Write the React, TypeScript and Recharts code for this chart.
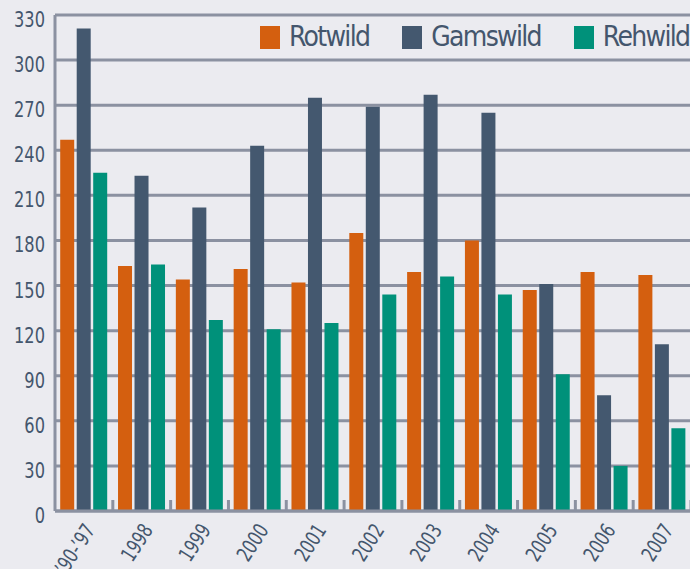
import React from "react";
import { BarChart, Bar, XAxis, YAxis, CartesianGrid, Legend } from "recharts";

const years = ["’90-’97", "1998", "1999", "2000", "2001", "2002", "2003", "2004", "2005", "2006", "2007"];
const rotwild = [247, 163, 154, 161, 152, 185, 159, 180, 147, 159, 157];
const gamswild = [321, 223, 202, 243, 275, 269, 277, 265, 151, 77, 111];
const rehwild = [225, 164, 127, 121, 125, 144, 156, 144, 91, 30, 55];
const yTicks = [0, 30, 60, 90, 120, 150, 180, 210, 240, 270, 300, 330];

const series = [
  { key: "Rotwild", color: "#d45f0f" },
  { key: "Gamswild", color: "#44586f" },
  { key: "Rehwild", color: "#00917a" },
];

const data = years.map((year, i) => ({
  year,
  Rotwild: rotwild[i],
  Gamswild: gamswild[i],
  Rehwild: rehwild[i],
}));

const FONT = "'DejaVu Sans Condensed', 'DejaVu Sans', sans-serif";
const TEXT = "#44566d";
const GRID = "#8b91a1";

// the original typeface is a condensed sans, so squeeze glyphs horizontally
const YTick = (props: any) => {
  const { x, y, payload } = props;
  return (
    <text
      transform={`translate(${x}, ${y + 12}) scale(0.82, 1)`}
      textAnchor="end"
      fill={TEXT}
      fontSize={22}
      fontFamily={FONT}
    >
      {payload.value}
    </text>
  );
};

const XTick = (props: any) => {
  const { x, y, payload } = props;
  const ax = x + 12;
  const ay = y + 19;
  const half = payload.offset || 0;
  return (
    <g>
      <line x1={x + half} x2={x + half} y1={y} y2={y - 11} stroke={GRID} strokeWidth={3} />
      <text
        transform={`translate(${ax}, ${ay}) rotate(-57) scale(0.82, 1)`}
        textAnchor="end"
        fill={TEXT}
        fontSize={21}
        fontFamily={FONT}
      >
        {payload.value}
      </text>
    </g>
  );
};

const LegendContent = () => (
  <div style={{ display: "flex", alignItems: "center", fontFamily: FONT }}>
    {series.map((s) => (
      <div key={s.key} style={{ display: "flex", alignItems: "center", marginRight: 33 }}>
        <span style={{ width: 20, height: 23, background: s.color, display: "inline-block", marginRight: 9 }} />
        <span style={{ color: TEXT, fontSize: 28, lineHeight: "28px", letterSpacing: "-1.7px" }}>{s.key}</span>
      </div>
    ))}
  </div>
);

export default function App() {
  return (
    <div
      style={{
        position: "absolute",
        left: 0,
        top: 0,
        width: 690,
        height: 569,
        overflow: "hidden",
        background: "#ebebf0",
      }}
    >
      <BarChart
        width={700}
        height={569}
        data={data}
        margin={{ top: 15, right: 9, left: 0, bottom: 0 }}
        barCategoryGap="9%"
        barGap={2.5}
      >
        <CartesianGrid vertical={false} stroke={GRID} strokeWidth={3} />
        <XAxis
          dataKey="year"
          height={58}
          axisLine={{ stroke: GRID, strokeWidth: 3 }}
          tickLine={false}
          tickSize={0}
          tickMargin={0}
          interval={0}
          tick={<XTick />}
        />
        <YAxis
          width={55}
          domain={[0, 330]}
          ticks={yTicks}
          interval={0}
          axisLine={{ stroke: GRID, strokeWidth: 3 }}
          tickLine={false}
          tickSize={0}
          tickMargin={10}
          tick={<YTick />}
        />
        <Legend
          verticalAlign="middle"
          layout="horizontal"
          content={<LegendContent />}
          wrapperStyle={{ top: 23, left: 260, width: "auto" }}
        />
        {series.map((s) => (
          <Bar key={s.key} dataKey={s.key} fill={s.color} isAnimationActive={false} />
        ))}
      </BarChart>
    </div>
  );
}
